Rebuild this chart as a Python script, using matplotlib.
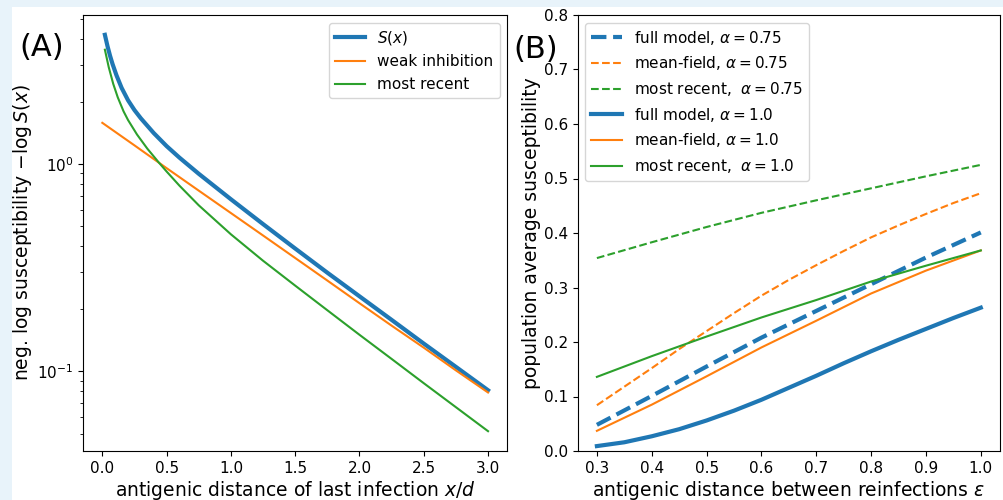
import matplotlib
matplotlib.use('Agg')
import matplotlib.pyplot as plt
from matplotlib.patches import Rectangle

# (A) neg. log susceptibility vs distance of last infection
x_s = [0.02, 0.04, 0.06, 0.08, 0.11, 0.15, 0.2, 0.25, 0.3, 0.4, 0.5, 0.6, 0.75,
       1.0, 1.25, 1.5, 1.75, 2.0, 2.25, 2.5, 2.75, 3.0]
s_full = [4.2, 3.71, 3.33, 3.03, 2.68, 2.33, 2.03, 1.82, 1.66, 1.41, 1.22, 1.073, 0.897,
          0.676, 0.513, 0.391, 0.299, 0.23, 0.177, 0.136, 0.105, 0.081]

x_weak = [0.0, 0.25, 0.5, 0.75, 1.0, 1.25, 1.5, 1.75, 2.0, 2.25, 2.5, 2.75, 3.0]
s_weak = [1.58, 1.23, 0.955, 0.744, 0.58, 0.452, 0.352, 0.274, 0.213, 0.166, 0.13, 0.101, 0.079]

x_recent = [0.02, 0.05, 0.085, 0.12, 0.165, 0.2, 0.27, 0.35, 0.4375, 0.5, 0.6, 0.75,
            1.0, 1.25, 1.5, 1.75, 2.0, 2.25, 2.5, 2.75, 3.0]
s_recent = [3.56, 2.93, 2.435, 2.098, 1.796, 1.63, 1.387, 1.186, 1.02, 0.92, 0.786, 0.632,
            0.458, 0.3415, 0.259, 0.197, 0.15, 0.1147, 0.0876, 0.0671, 0.0514]

# (B) population average susceptibility vs epsilon
eps_fine = [0.3, 0.35, 0.4, 0.45, 0.5, 0.55, 0.6, 0.65, 0.7, 0.75, 0.8, 0.85, 0.9, 0.95, 1.0]
eps = [0.3, 0.4, 0.5, 0.6, 0.7, 0.8, 0.9, 1.0]

full_075 = [0.048, 0.101, 0.155, 0.208, 0.257, 0.306, 0.355, 0.401]
mf_075 = [0.084, 0.118, 0.152, 0.187, 0.22, 0.253, 0.285, 0.314, 0.341, 0.367, 0.392,
          0.414, 0.435, 0.455, 0.473]
recent_075 = [0.354, 0.383, 0.411, 0.437, 0.46, 0.482, 0.504, 0.525]
full_10 = [0.009, 0.016, 0.027, 0.04, 0.056, 0.074, 0.094, 0.116, 0.138, 0.161, 0.183,
           0.204, 0.224, 0.244, 0.263]
mf_10 = [0.037, 0.085, 0.137, 0.19, 0.239, 0.289, 0.331, 0.368]
recent_10 = [0.136, 0.174, 0.21, 0.245, 0.277, 0.311, 0.34, 0.368]

fig = plt.figure(figsize=(10.04, 5.0), dpi=100)
fig.patch.set_facecolor('#e8f3fa')
fig.patches.append(Rectangle((12/1004, 0), 1, 1 - 7/500, transform=fig.transFigure,
                             facecolor='white', edgecolor='none', zorder=-5))

ax1 = fig.add_axes([0.0827, 0.098, 0.4226, 0.872])
ax2 = fig.add_axes([0.5754, 0.098, 0.4206, 0.872])

ax1.plot(x_s, s_full, color='C0', lw=3, label='$S(x)$')
ax1.plot(x_weak, s_weak, color='C1', lw=1.5, label='weak inhibition')
ax1.plot(x_recent, s_recent, color='C2', lw=1.5, label='most recent')
ax1.set_yscale('log')
ax1.set_xticks([0.0, 0.5, 1.0, 1.5, 2.0, 2.5, 3.0])
ax1.set_xlabel('antigenic distance of last infection $x/d$', fontsize=13.5, labelpad=2)
ax1.set_ylabel(r'neg. log susceptibility $-\log S(x)$', fontsize=13.5, labelpad=2)
ax1.tick_params(labelsize=11)
ax1.legend(loc='upper right', fontsize=11)

ax2.plot(eps, full_075, '--', color='C0', lw=3, label=r'full model, $\alpha=0.75$')
ax2.plot(eps_fine, mf_075, '--', color='C1', lw=1.5, label=r'mean-field, $\alpha=0.75$')
ax2.plot(eps, recent_075, '--', color='C2', lw=1.5, label=r'most recent,  $\alpha=0.75$')
ax2.plot(eps_fine, full_10, '-', color='C0', lw=3, label=r'full model, $\alpha=1.0$')
ax2.plot(eps, mf_10, '-', color='C1', lw=1.5, label=r'mean-field, $\alpha=1.0$')
ax2.plot(eps, recent_10, '-', color='C2', lw=1.5, label=r'most recent,  $\alpha=1.0$')
ax2.set_ylim(0, 0.8)
ax2.set_xticks([0.3, 0.4, 0.5, 0.6, 0.7, 0.8, 0.9, 1.0])
ax2.set_xlabel(r'antigenic distance between reinfections $\varepsilon$', fontsize=13.5, labelpad=2)
ax2.set_ylabel('population average susceptibility', fontsize=13.5, labelpad=2)
ax2.tick_params(labelsize=11)
ax2.legend(loc='upper left', fontsize=11)

fig.text(0.019, 0.905, '(A)', fontsize=22, va='center')
fig.text(0.511, 0.9, '(B)', fontsize=22, va='center')

fig.savefig('out.png', dpi=100)
